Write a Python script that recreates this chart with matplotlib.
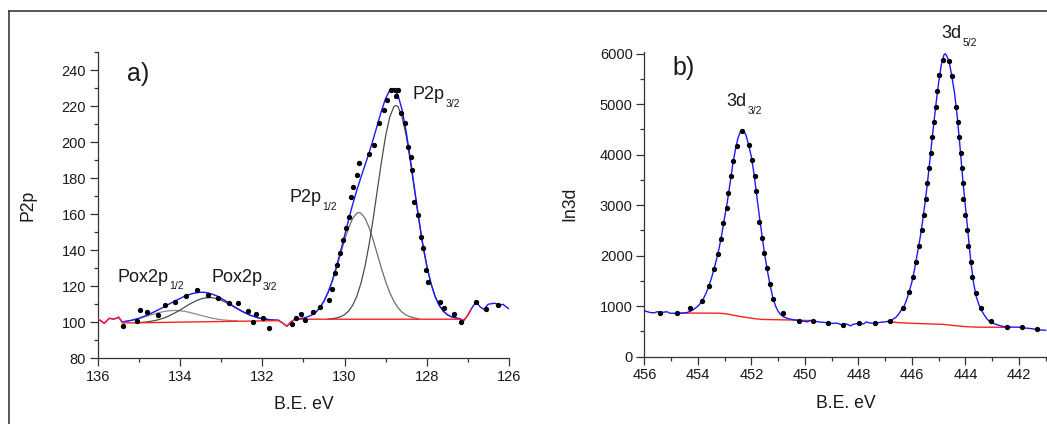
"""
XPS spectra: a) P2p region with fitted doublets, b) In3d region.
"""

import matplotlib.pyplot as plt
from matplotlib.lines import Line2D
from matplotlib.ticker import MultipleLocator

plt.rcParams["font.family"] = ["Liberation Sans", "DejaVu Sans"]

TEXT = "#1a1a1a"
AXIS = "#333333"

# ---------------- panel a) P2p ----------------
# measured points (B.E. eV, counts)
p2p_dots_e = [135.39, 135.05, 134.97, 134.80, 134.53, 134.36, 134.12, 133.86,
              133.59, 133.33, 133.08, 132.81, 132.59, 132.35, 132.22, 132.14,
              131.98, 131.83, 131.27, 131.18, 131.05, 130.97, 130.77, 130.59,
              130.38, 130.30, 130.22, 130.19, 130.10, 130.04, 129.96, 129.90,
              129.84, 129.80, 129.69, 129.64, 129.41, 129.29, 129.17, 129.05,
              128.97, 128.88, 128.78, 128.69, 128.76, 128.62, 128.54, 128.46,
              128.38, 128.35, 128.30, 128.22, 128.13, 128.08, 128.01, 127.96,
              127.69, 127.59, 127.35, 127.16, 126.80, 126.57, 126.27]
p2p_dots_i = [97.9, 100.7, 106.7, 105.7, 103.9, 109.4, 111.1, 114.8,
              118.1, 115.3, 113.3, 110.6, 110.6, 106.1, 100.0, 104.8,
              102.6, 97.0, 98.9, 102.2, 104.6, 101.4, 105.6, 108.7,
              112.4, 118.5, 127.2, 131.8, 138.3, 145.7, 152.2, 158.6,
              169.7, 175.3, 181.8, 188.3, 193.5, 198.5, 210.5, 217.8,
              223.7, 228.9, 228.9, 229.2, 225.6, 216.0, 210.5, 197.6,
              192.0, 184.6, 167.0, 159.6, 147.6, 141.2, 129.1, 122.6,
              111.5, 107.8, 104.4, 100.4, 111.3, 107.6, 109.4]

# cumulative fit (blue)
p2p_fit_e = [136.0, 135.92, 135.84, 135.72, 135.6, 135.49,
             135.4, 135.3, 135.2, 135.1, 135.0, 134.9, 134.8, 134.7, 134.6,
             134.5, 134.4, 134.3, 134.2, 134.1, 134.0, 133.9, 133.8, 133.7,
             133.6, 133.5, 133.4, 133.3, 133.2, 133.1, 133.0, 132.9, 132.8,
             132.7, 132.6, 132.5, 132.4, 132.3, 132.2, 132.1, 132.0, 131.9,
             131.8, 131.7, 131.6, 131.5, 131.4, 131.3,
             131.2, 131.1, 131.0, 130.9, 130.8, 130.7, 130.6, 130.5, 130.4,
             130.3, 130.2, 130.1, 130.0, 129.9, 129.8, 129.7, 129.6, 129.5,
             129.4, 129.3, 129.2, 129.1, 129.0, 128.9, 128.8, 128.7, 128.6,
             128.5, 128.4, 128.3, 128.2, 128.1, 128.0, 127.9, 127.8, 127.7,
             127.6, 127.5, 127.4, 127.3, 127.2,
             127.1, 127.0, 126.93, 126.8, 126.7, 126.61, 126.51, 126.35,
             126.23, 126.15, 126.0]
p2p_fit_i = [101.8, 100.8, 99.4, 102.2, 101.8, 102.8,
             100.2, 100.6, 101.0, 101.6, 102.2, 103.1, 104.0, 105.0, 106.1,
             107.2, 108.4, 109.7, 110.9, 112.1, 113.2, 114.3, 115.2, 115.9,
             116.4, 116.7, 116.6, 116.2, 115.5, 114.6, 113.3, 112.0, 110.5,
             109.0, 107.6, 106.3, 105.1, 104.0, 103.2, 102.5, 102.0, 101.7,
             101.4, 101.2, 101.1, 99.5, 97.8, 100.2,
             101.8, 102.0, 102.4, 103.0, 104.0, 105.6, 108.1, 111.7, 116.6,
             122.9, 130.5, 139.0, 148.0, 157.0, 165.6, 173.4, 180.6, 187.4,
             194.3, 201.8, 209.8, 217.6, 224.4, 228.9, 229.8, 226.2, 218.0,
             205.8, 190.8, 174.5, 158.3, 143.6, 131.3, 121.7, 114.5, 109.5,
             106.2, 104.2, 103.0, 102.4, 102.0,
             101.0, 104.0, 107.0, 111.4, 108.5, 107.2, 110.0, 110.6,
             109.5, 110.0, 107.4]

# background (red)
p2p_bg_e = [136.0, 135.92, 135.84, 135.72, 135.6, 135.49, 135.4, 131.6,
            131.5, 131.4, 131.3, 131.2, 127.2, 127.1, 127.0, 126.93]
p2p_bg_i = [101.8, 100.8, 99.4, 102.2, 101.8, 102.8, 99.6, 100.9,
            99.5, 97.8, 100.2, 101.7, 101.7, 101.0, 104.0, 107.0]

# Pox2p 1/2 component
pox12_e = [135.3, 135.2, 135.1, 135.0, 134.9, 134.8, 134.7, 134.6, 134.5,
           134.4, 134.3, 134.2, 134.1, 134.0, 133.9, 133.8, 133.7, 133.6,
           133.5, 133.4, 133.3, 133.2, 133.1, 133.0, 132.9, 132.8, 132.7,
           132.6]
pox12_i = [100.5, 100.9, 101.4, 102.0, 102.7, 103.4, 104.1, 104.8, 105.4,
           105.9, 106.3, 106.5, 106.6, 106.4, 106.1, 105.7, 105.1, 104.5,
           103.9, 103.3, 102.7, 102.2, 101.8, 101.4, 101.2, 101.0, 100.8,
           100.8]

# Pox2p 3/2 component
pox32_e = [135.1, 135.0, 134.9, 134.8, 134.7, 134.6, 134.5, 134.4, 134.3,
           134.2, 134.1, 134.0, 133.9, 133.8, 133.7, 133.6, 133.5, 133.4,
           133.3, 133.2, 133.1, 133.0, 132.9, 132.8, 132.7, 132.6, 132.5,
           132.4, 132.3, 132.2, 132.1, 132.0, 131.9, 131.8, 131.7, 131.6]
pox32_i = [99.7, 99.8, 100.0, 100.2, 100.6, 101.0, 101.6, 102.3, 103.2,
           104.3, 105.5, 106.8, 108.2, 109.6, 110.9, 112.0, 112.9, 113.5,
           113.7, 113.6, 113.1, 112.3, 111.2, 110.0, 108.7, 107.4, 106.1,
           105.0, 104.0, 103.2, 102.5, 102.0, 101.7, 101.4, 101.2, 101.1]

# P2p 1/2 component
p12_e = [130.7, 130.6, 130.5, 130.4, 130.3, 130.2, 130.1, 130.0, 129.9,
         129.8, 129.7, 129.65, 129.6, 129.5, 129.4, 129.3, 129.2, 129.1,
         129.0, 128.9, 128.8, 128.7, 128.6, 128.5, 128.4, 128.3, 128.2]
p12_i = [105.6, 108.1, 111.7, 116.5, 122.6, 129.8, 137.7, 145.5, 152.5,
         157.8, 160.6, 161.0, 160.6, 157.8, 152.5, 145.5, 137.7, 129.8,
         122.6, 116.5, 111.7, 108.1, 105.6, 104.0, 103.0, 102.4, 101.9]

# P2p 3/2 component
p32_e = [130.4, 130.3, 130.2, 130.1, 130.0, 129.9, 129.8, 129.7, 129.6,
         129.5, 129.4, 129.3, 129.2, 129.1, 129.0, 128.9, 128.8, 128.75,
         128.7, 128.6, 128.5, 128.4, 128.3, 128.2, 128.1, 128.0, 127.9,
         127.8, 127.7, 127.6, 127.5, 127.4, 127.3, 127.2]
p32_i = [101.8, 102.0, 102.4, 103.0, 104.2, 106.2, 109.5, 114.5, 121.7,
         131.3, 143.5, 158.0, 173.8, 189.5, 203.5, 214.1, 219.8, 220.5,
         219.8, 214.1, 203.5, 189.5, 173.8, 158.0, 143.5, 131.3, 121.7,
         114.5, 109.5, 106.2, 104.2, 103.0, 102.4, 102.0]

# ---------------- panel b) In3d ----------------
in3d_dots_e = [455.42, 454.79, 454.29, 453.83, 453.57, 453.40, 453.23, 453.13,
               453.05, 452.92, 452.86, 452.77, 452.67, 452.55, 452.34, 452.10,
               451.96, 451.87, 451.81, 451.71, 451.61, 451.52, 451.43, 451.30,
               451.18, 450.81, 450.21, 449.68, 449.12, 448.56, 447.97, 447.38,
               446.82, 446.32, 446.10, 445.95, 445.85, 445.75, 445.63, 445.55,
               445.48, 445.42, 445.36, 445.30, 445.24, 445.17, 445.11, 445.05,
               444.98, 444.85, 444.60, 444.51, 444.34, 444.29, 444.23, 444.18,
               444.14, 444.10, 444.08, 444.02, 443.95, 443.89, 443.80, 443.74,
               443.61, 443.43, 443.04, 442.46, 441.90, 441.34]
in3d_dots_i = [860, 860, 958, 1109, 1406, 1730, 2034, 2331,
               2641, 2938, 3248, 3578, 3875, 4178, 4475, 4186,
               3895, 3578, 3281, 2667, 2345, 2047, 1750, 1440,
               1137, 859, 713, 707, 673, 628, 661, 661,
               713, 958, 1287, 1584, 1881, 2192, 2509, 2806,
               3123, 3433, 3731, 4028, 4345, 4653, 4950, 5267,
               5578, 5875, 5861, 5558, 4950, 4653, 4345, 4028,
               3731, 3433, 3123, 2806, 2509, 2192, 1881, 1584,
               1267, 958, 713, 582, 582, 542]

in3d_fit_e = [456.0, 455.85, 455.75, 455.62, 455.5, 455.42, 455.3, 455.16,
              455.05, 454.9, 454.79, 454.6, 454.4, 454.2, 454.0, 453.9,
              453.8, 453.7, 453.6, 453.5, 453.4, 453.3, 453.2, 453.1,
              453.0, 452.9, 452.8, 452.7, 452.6, 452.5, 452.4, 452.35,
              452.3, 452.2, 452.1, 452.0, 451.9, 451.8, 451.7, 451.6,
              451.5, 451.4, 451.3, 451.2, 451.1, 451.0, 450.9, 450.8,
              450.6, 450.4, 450.2, 450.0, 449.9, 449.8, 449.68, 449.5,
              449.3, 449.12, 449.0, 448.8, 448.6, 448.5, 448.4, 448.3,
              448.2, 448.0, 447.8, 447.7, 447.6, 447.4, 447.2, 447.0,
              446.8, 446.6, 446.5, 446.4, 446.3, 446.2, 446.1, 446.0,
              445.9, 445.8, 445.7, 445.6, 445.5, 445.4, 445.3, 445.2,
              445.1, 445.0, 444.9, 444.8, 444.75, 444.7, 444.6, 444.5,
              444.4, 444.3, 444.2, 444.1, 444.0, 443.9, 443.8, 443.7,
              443.6, 443.5, 443.4, 443.3, 443.2, 443.1, 443.0, 442.8,
              442.6, 442.4, 442.2, 442.0, 441.8, 441.6, 441.4, 441.2,
              441.0]
in3d_fit_i = [911, 885, 872, 870, 895, 858, 880, 891,
              862, 860, 858, 862, 875, 920, 1000, 1060,
              1140, 1250, 1380, 1540, 1730, 1930, 2160, 2440,
              2760, 3060, 3420, 3790, 4090, 4330, 4470, 4490,
              4480, 4390, 4190, 3960, 3620, 3200, 2780, 2390,
              2020, 1700, 1420, 1180, 1010, 900, 830, 790,
              750, 730, 713, 700, 690, 720, 707, 690,
              680, 673, 660, 665, 628, 650, 640, 610,
              640, 661, 650, 690, 670, 661, 680, 690,
              713, 780, 840, 920, 990, 1120, 1290, 1480,
              1730, 2030, 2330, 2680, 3080, 3530, 4030, 4530,
              5000, 5430, 5780, 5980, 6000, 5960, 5830, 5530,
              5200, 4730, 4150, 3520, 2980, 2440, 1900, 1480,
              1200, 1040, 920, 830, 750, 700, 670, 630,
              600, 590, 585, 585, 570, 560, 545, 530,
              525]

in3d_bg1_e = [454.8, 453.2, 452.9, 452.4, 451.9, 451.6, 450.3, 449.7]
in3d_bg1_i = [865, 862, 845, 795, 755, 738, 725, 712]
in3d_bg2_e = [446.9, 446.45, 446.0, 445.5, 444.83, 444.4, 443.95, 443.5, 442.33]
in3d_bg2_i = [693, 673, 662, 652, 641, 615, 594, 585, 582]


def style_axes(ax):
    for side in ("top", "right"):
        ax.spines[side].set_visible(False)
    for side in ("left", "bottom"):
        ax.spines[side].set_color(AXIS)
        ax.spines[side].set_linewidth(0.9)
    ax.tick_params(which="major", direction="out", length=5.5, width=0.9,
                   color=AXIS, labelsize=10.5, labelcolor=TEXT, pad=2.8)
    ax.tick_params(which="minor", direction="out", length=3.2, width=0.9,
                   color=AXIS)


def label_peak(ax, x, y, main, sub):
    t = ax.text(x, y, main, fontsize=13, ha="left", va="baseline", color=TEXT)
    ax.annotate(sub, xy=(1, 0), xycoords=t, xytext=(0.6, -2.8),
                textcoords="offset points", fontsize=7.5, ha="left",
                va="baseline", color=TEXT)


def main():
    fig = plt.figure(figsize=(10.47, 4.24), dpi=100)

    # frame around the figure (only top and left edges are visible)
    fig.add_artist(Line2D([0.0086, 1.0], [0.974, 0.974], transform=fig.transFigure,
                          color="#3a3a3a", lw=1.2))
    fig.add_artist(Line2D([0.0086, 0.0086], [0.0, 0.974], transform=fig.transFigure,
                          color="#3a3a3a", lw=1.2))

    # a) P2p
    ax = fig.add_axes([0.0933, 0.155, 0.3929, 0.7217])
    ax.plot(pox12_e, pox12_i, color="#8c8c8c", lw=0.9, zorder=2)
    ax.plot(pox32_e, pox32_i, color="#4d4d4d", lw=0.9, zorder=2)
    ax.plot(p12_e, p12_i, color="#6e6e6e", lw=0.9, zorder=2)
    ax.plot(p32_e, p32_i, color="#4d4d4d", lw=0.9, zorder=2)
    ax.plot(p2p_fit_e, p2p_fit_i, color="#1a1aff", lw=1.0, zorder=3)
    ax.plot(p2p_bg_e, p2p_bg_i, color="#ff2020", lw=1.0, zorder=4)
    ax.plot(p2p_dots_e, p2p_dots_i, "o", color="black", ms=2.8, zorder=5)
    ax.set_xlim(136, 126)
    ax.set_ylim(80, 250)
    ax.xaxis.set_major_locator(MultipleLocator(2))
    ax.xaxis.set_minor_locator(MultipleLocator(1))
    ax.set_yticks([80, 100, 120, 140, 160, 180, 200, 220, 240])
    ax.yaxis.set_minor_locator(MultipleLocator(10))
    style_axes(ax)
    ax.set_xlabel("B.E. eV", fontsize=12.7, color=TEXT, labelpad=9)
    ax.set_ylabel("P2p", fontsize=12.7, color=TEXT)
    ax.yaxis.set_label_coords(-0.148, 0.5)
    ax.text(135.28, 234, "a)", fontsize=18, ha="left", va="baseline", color=TEXT)
    label_peak(ax, 135.52, 122.6, "Pox2p", "1/2")
    label_peak(ax, 133.24, 122.3, "Pox2p", "3/2")
    label_peak(ax, 131.34, 167.0, "P2p", "1/2")
    label_peak(ax, 128.34, 223.9, "P2p", "3/2")

    # b) In3d
    bx = fig.add_axes([0.6154, 0.1587, 0.3846, 0.7193])
    bx.plot(in3d_fit_e, in3d_fit_i, color="#1a1aff", lw=1.0, zorder=3)
    bx.plot(in3d_bg1_e, in3d_bg1_i, color="#ff2020", lw=1.0, zorder=2)
    bx.plot(in3d_bg2_e, in3d_bg2_i, color="#ff2020", lw=1.0, zorder=2)
    bx.plot(in3d_dots_e, in3d_dots_i, "o", color="black", ms=2.8, zorder=5)
    bx.set_xlim(456, 440.95)
    bx.set_ylim(0, 6040)
    bx.set_xticks([456, 454, 452, 450, 448, 446, 444, 442])
    bx.xaxis.set_minor_locator(MultipleLocator(1))
    bx.set_yticks([0, 1000, 2000, 3000, 4000, 5000, 6000])
    bx.yaxis.set_minor_locator(MultipleLocator(500))
    style_axes(bx)
    bx.set_xlabel("B.E. eV", fontsize=12.7, color=TEXT, labelpad=9)
    bx.set_ylabel("In3d", fontsize=12.7, color=TEXT)
    bx.yaxis.set_label_coords(-0.165, 0.5)
    bx.text(454.94, 5578, "b)", fontsize=18, ha="left", va="baseline", color=TEXT)
    label_peak(bx, 452.92, 4964, "3d", "3/2")
    label_peak(bx, 444.89, 6305, "3d", "5/2")

    fig.savefig("out.png", dpi=100)


if __name__ == "__main__":
    main()
